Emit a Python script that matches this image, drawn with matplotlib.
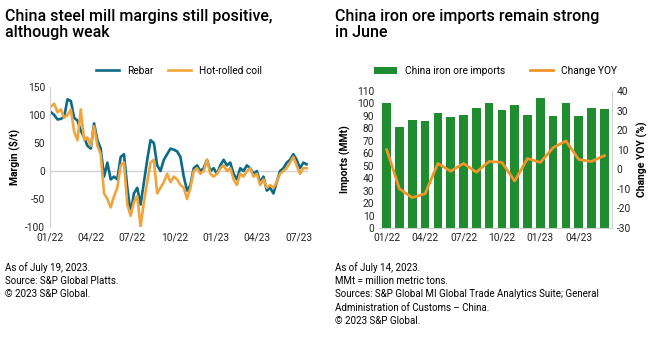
import matplotlib
matplotlib.use("Agg")
import matplotlib.pyplot as plt
import matplotlib.dates as mdates
import pandas as pd

plt.rcParams['font.family'] = ['Roboto', 'DejaVu Sans']
plt.rcParams['axes.unicode_minus'] = False

# left chart: weekly margins, $/t
rebar = [105, 100, 92, 93, 97, 128, 125, 95, 90, 72, 60, 45, 40, 85, 55, 40,
         -10, 15, -15, -10, -15, 25, 30, -30, -75, -40, -30, -60, -20, 20,
         55, 50, 10, 0, 20, 30, 40, 38, 35, 25, -10, -35, -25, 5, 10, 0, 5,
         20, 0, 5, -5, 10, 20, 10, 15, -5, -15, 5, 0, 10, 5, -5, 0, -20, -10,
         -35, -30, -40, -20, 0, 5, 15, 20, 30, 20, 5, 15, 12]
hrc = [115, 120, 105, 110, 95, 100, 110, 70, 55, 110, 55, 60, 45, 80, 45, 30,
       -40, -50, -65, -45, -30, 10, 15, -60, -80, -55, -45, -100, -55, -20,
       15, 20, -40, -30, -20, -5, -20, -10, -15, -25, -30, -50, -30, 0, 5,
       -5, 0, 20, -5, -10, -5, 5, 10, 0, 5, -15, -25, -5, -10, 0, 5, -10, -5,
       -25, -15, -30, -25, -30, -20, -5, 0, 5, 15, 25, 10, -5, 5, 5]
dates = pd.date_range("2022-01-03", "2023-07-19", periods=len(rebar))

# right chart: monthly imports
months = ["01/22", "02/22", "03/22", "04/22", "05/22", "06/22", "07/22", "08/22", "09/22",
          "10/22", "11/22", "12/22", "01/23", "02/23", "03/23", "04/23", "05/23", "06/23"]
imports = [100, 81, 87, 86, 92, 89, 91, 96, 100, 95, 99, 91, 104, 90, 100, 90, 96, 95.5]
yoy = [10, -10, -14.5, -12.5, 3, -1, 3, -1.5, 4, 3.5, -6, 5.5, 3.5, 11, 14.5, 5, 4, 7]

W, H = 660, 340
fig = plt.figure(figsize=(6.6, 3.4), dpi=100)

def box(x0, y0, x1, y1):
    return [x0 / W, 1 - y1 / H, (x1 - x0) / W, (y1 - y0) / H]

grey = "#d0d0d0"
tick_kw = dict(labelsize=7.3, length=0, colors="#222222")

# ---- left
ax = fig.add_axes(box(50, 87, 308, 227))
ax.plot(dates, rebar, color="#0b6b87", lw=1.9, label="Rebar")
ax.plot(dates, hrc, color="#f2a43c", lw=1.9, label="Hot-rolled coil")
ax.axhline(0, color=grey, lw=1, zorder=0)
ax.set_ylim(-100, 150)
ax.set_yticks(range(-100, 151, 50))
ax.set_xlim(pd.Timestamp("2022-01-01"), pd.Timestamp("2023-07-22"))
ax.xaxis.set_major_locator(mdates.MonthLocator(bymonth=[1, 4, 7, 10]))
ax.xaxis.set_major_formatter(mdates.DateFormatter("%m/%y"))
for s in ["top", "right", "bottom"]:
    ax.spines[s].set_visible(False)
ax.spines["left"].set_color(grey)
ax.tick_params(**tick_kw)
ax.tick_params(axis="x", pad=4)
ax.set_ylabel("Margin ($/t)", fontsize=7.5, fontweight="bold", labelpad=4)
ax.legend(loc="lower center", bbox_to_anchor=(0.5, 1.05), ncol=2, frameon=False,
          fontsize=7.3, handlelength=2.2, columnspacing=1.5, borderaxespad=0)

# ---- right
ax2 = fig.add_axes(box(379, 91, 612, 228))
x = range(len(months))
ax2.bar(x, imports, width=0.68, color="#1f8c2f", label="China iron ore imports")
ax2.set_ylim(0, 110)
ax2.set_yticks(range(0, 111, 10))
ax2.set_xlim(-0.6, len(months) - 0.4)
ax2.set_xticks(list(x)[::3])
ax2.set_xticklabels(months[::3])
for s in ["top", "right", "left"]:
    ax2.spines[s].set_visible(False)
ax2.spines["bottom"].set_color(grey)
ax2.tick_params(**tick_kw)
ax2.set_ylabel("Imports (MMt)", fontsize=7.5, fontweight="bold", labelpad=4)

ax3 = ax2.twinx()
ax3.plot(x, yoy, color="#f0952a", lw=2, label="Change YOY")
ax3.set_ylim(-30, 40)
ax3.set_yticks(range(-30, 41, 10))
for s in ["top", "left", "bottom"]:
    ax3.spines[s].set_visible(False)
ax3.spines["right"].set_color(grey)
ax3.tick_params(**tick_kw)
ax3.set_ylabel("Change YOY (%)", fontsize=7.5, fontweight="bold", labelpad=4)

h1, l1 = ax2.get_legend_handles_labels()
h2, l2 = ax3.get_legend_handles_labels()
ax2.legend(h1 + h2, l1 + l2, loc="lower center", bbox_to_anchor=(0.5, 1.08), ncol=2,
           frameon=False, fontsize=7.3, handlelength=2.2, columnspacing=2.5, borderaxespad=0)

# ---- titles and notes
fig.text(5 / W, 1 - 9 / H, "China steel mill margins still positive,\nalthough weak",
         fontsize=11.5, fontweight="medium", va="top", linespacing=1.05)
fig.text(335 / W, 1 - 9 / H, "China iron ore imports remain strong\nin June",
         fontsize=11.5, fontweight="medium", va="top", linespacing=1.05)
fig.text(5 / W, 1 - 262 / H,
         "As of July 19, 2023.\nSource: S&P Global Platts.\n\u00a9 2023 S&P Global.",
         fontsize=7, va="top", linespacing=1.4)
fig.text(335 / W, 1 - 262 / H,
         "As of July 14, 2023.\nMMt = million metric tons.\n"
         "Sources: S&P Global MI Global Trade Analytics Suite; General\n"
         "Administration of Customs \u2013 China.\n\u00a9 2023 S&P Global.",
         fontsize=7, va="top", linespacing=1.4)

fig.savefig("out.png", dpi=100)
